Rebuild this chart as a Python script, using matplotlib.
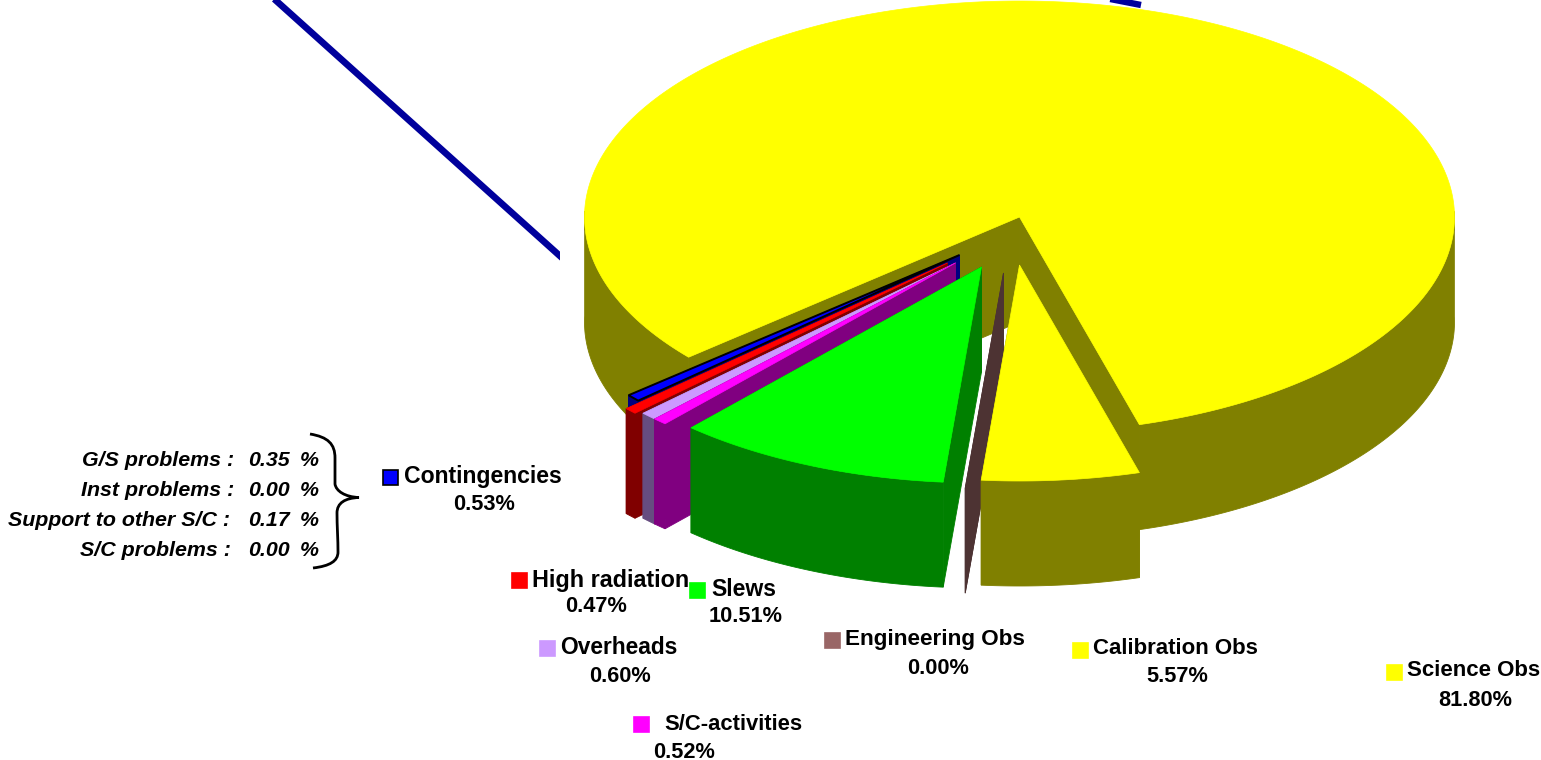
import numpy as np
import matplotlib
matplotlib.use("Agg")
import matplotlib.pyplot as plt
from matplotlib.path import Path
from matplotlib.patches import PathPatch, Rectangle

plt.rcParams['font.family'] = ['Liberation Sans', 'DejaVu Sans']

# ---- data
categories = ["Science Obs", "Contingencies", "High radiation", "Overheads",
              "S/C-activities", "Slews", "Engineering Obs", "Calibration Obs"]
values = [81.80, 0.53, 0.47, 0.60, 0.52, 10.51, 0.00, 5.57]
value_labels = ["81.80%", "0.53%", "0.47%", "0.60%", "0.52%", "10.51%", "0.00%", "5.57%"]
contingency_items = ["G/S problems :", "Inst problems :", "Support to other S/C :", "S/C problems :"]
contingency_values = ["0.35", "0.00", "0.17", "0.00"]

# ---- style
top_colors = ["#FFFF00", "#0000FF", "#FF0000", "#CC99FF", "#FF00FF", "#00FF00", "#996666", "#FFFF00"]
side_colors = ["#808000", "#000080", "#800000", "#664C80", "#800080", "#008000", "#4D3333", "#808000"]
swatch_colors = ["#FFFF00", "#0000FF", "#FF0000", "#CC99FF", "#FF00FF", "#00FF00", "#996666", "#FFFF00"]
explode_x = [0, -60, -72, -64, -64, -38, -16, 0]
explode_y = [0, 38, 46, 46, 46, 50, 56, 48]
swatch_xy = [(1387, 665), (383, 470), (512, 573), (540, 641), (634, 717), (690, 583), (825, 633), (1073, 643)]
name_xy = [(1407, 671), (404, 477), (532, 580), (560, 647), (664, 724), (711, 590), (845, 639), (1093, 649)]
pct_xy = [(1475, 700), (484, 505), (596, 607), (620, 676), (684, 752), (746, 617), (938, 668), (1177, 677)]
name_size = [16.0, 16.6, 16.8, 16.4, 15.8, 16.6, 16.2, 16.0]

CX, CY, RX, RY, DEPTH = 1019.5, 217.0, 435.0, 216.0, 105.0
START = -74.0

fig = plt.figure(figsize=(15.41, 7.60), dpi=100, facecolor="white")
ax = fig.add_axes([0, 0, 1, 1])
ax.set_xlim(0, 1541)
ax.set_ylim(760, 0)
ax.axis("off")

# ---- stray blue leader line, cut off at the chart's blank box
NAVY = "#00009C"
clip = Rectangle((0, -10), 560, 800, transform=ax.transData)
ln, = ax.plot([272, 600], [-3, 292], color=NAVY, lw=4.8, solid_capstyle="butt", zorder=1)
ln.set_clip_path(clip)
ax.plot([1100, 1141], [-3, 5], color=NAVY, lw=4.6, solid_capstyle="butt", zorder=1)


def pt(t, ox, oy):
    # small projection correction of the original's 3-D view near the front of the pie
    t = np.asarray(t, dtype=float)
    t = t + np.interp(np.mod(t, 360), [228.0, 265.9, 285.8], [0.0, -1.0, 0.0])
    a = np.radians(t)
    return CX + ox + RX * np.cos(a), CY + oy - RY * np.sin(a)


def poly(xs, ys, fc, z, ec=None, lw=0.6):
    ax.fill(xs, ys, facecolor=fc, edgecolor=ec if ec else fc, linewidth=lw, zorder=z, joinstyle="miter")


angles = START + np.concatenate([[0], np.cumsum(values)]) * 3.6
z = 2
for i, v in enumerate(values):
    t0, t1 = angles[i], angles[i + 1]
    ox, oy = explode_x[i], explode_y[i]
    ax0, ay0 = CX + ox, CY + oy
    # radial faces
    for t in (t0, t1):
        px, py = pt(t, ox, oy)
        poly([ax0, px, px, ax0], [ay0, py, py + DEPTH, ay0 + DEPTH], side_colors[i], z)
    z += 1
    if v > 0:
        ts = np.linspace(t0, t1, max(int((t1 - t0) * 3), 8))
        xs, ys = pt(ts, ox, oy)
        # outer wall: only the front half of the rim is visible
        front = np.sin(np.radians(ts)) <= 0.03
        idx = np.where(front)[0]
        if len(idx):
            groups = np.split(idx, np.where(np.diff(idx) > 1)[0] + 1)
            for g in groups:
                gx, gy = xs[g], ys[g]
                poly(np.r_[gx, gx[::-1]], np.r_[gy, gy[::-1] + DEPTH], side_colors[i], z)
        z += 1
        edge = "black" if categories[i] == "Contingencies" else None
        lw = 1.4 if edge else 0.5
        poly(np.r_[ax0, xs], np.r_[ay0, ys], top_colors[i], z, ec=edge, lw=lw)
        z += 1

# ---- labels
for i, name in enumerate(categories):
    sx, sy = swatch_xy[i]
    ec = "black" if name == "Contingencies" else swatch_colors[i]
    ax.add_patch(Rectangle((sx, sy), 15, 15, facecolor=swatch_colors[i], edgecolor=ec, lw=1.2, zorder=50))
    ax.text(name_xy[i][0], name_xy[i][1], name, fontsize=name_size[i], fontweight="bold", ha="left", va="center", zorder=51)
    ax.text(pct_xy[i][0], pct_xy[i][1], value_labels[i], fontsize=15.7, fontweight="bold", ha="center", va="center", zorder=51)

item_y = [460, 490, 520, 550]
item_right = [234, 234, 230, 231]
for lab, val, y, r in zip(contingency_items, contingency_values, item_y, item_right):
    ax.text(r, y, lab, fontsize=15.4, fontweight="bold", fontstyle="italic", ha="right", va="center")
    ax.text(248, y, val, fontsize=15.4, fontweight="bold", fontstyle="italic", ha="left", va="center")
    ax.text(319, y, "%", fontsize=15.4, fontweight="bold", fontstyle="italic", ha="right", va="center")

# ---- brace
verts = [(310, 434), (328, 437), (335, 444), (335, 458),
         (335, 470), (335, 474), (335, 484),
         (336, 491), (345, 497), (359, 497.5),
         (345, 498), (337, 503), (337, 513),
         (337, 525), (338, 540), (338, 552),
         (338, 561), (330, 566), (313, 568)]
codes = [Path.MOVETO] + [Path.CURVE4] * 18
ax.add_patch(PathPatch(Path(verts, codes), facecolor="none", edgecolor="black", lw=2.0, zorder=40))

fig.savefig("out.png", dpi=100, facecolor="white")
